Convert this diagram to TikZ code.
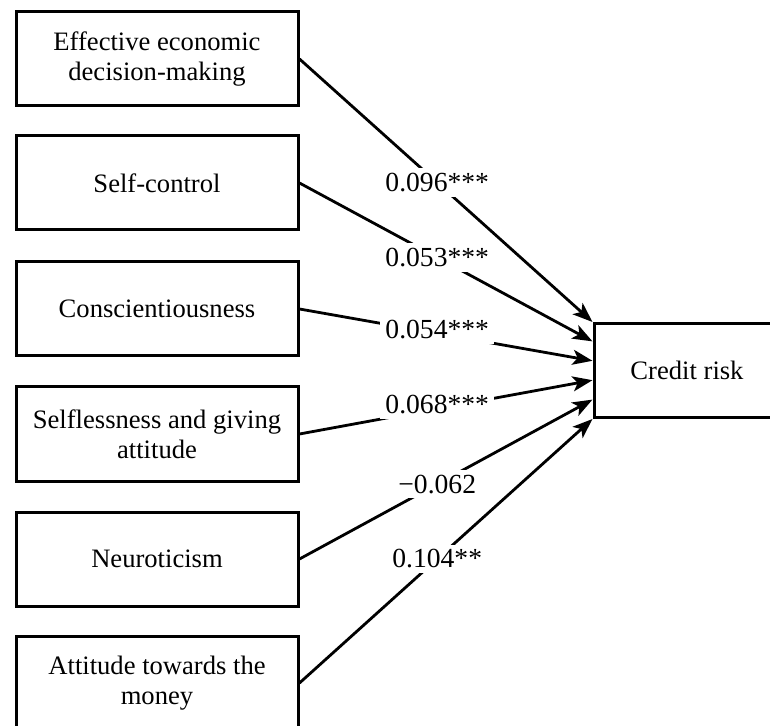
\documentclass[tikz,border=0pt]{standalone}
\usepackage{fontspec}
\setmainfont{Liberation Serif}
\usetikzlibrary{arrows.meta,calc}
\begin{document}
\begin{tikzpicture}[x=0.5pt,y=-0.5pt,
  box/.style={draw,line width=1.5pt,minimum width=141pt,minimum height=47pt,inner sep=0pt,align=center,font=\fontsize{13.3}{15}\selectfont},
  link/.style={line width=1.4pt,-{Stealth[length=10pt,width=7.5pt,inset=2.5pt]}},
  coef/.style={fill=white,inner sep=2.5pt,font=\fontsize{13.8}{15}\selectfont,pos=0.47}]
\useasboundingbox (0,0) rectangle (770,726);
\node[box] (a) at (157,59) {Effective economic\\decision-making};
\node[box] (b) at (157,183) {Self-control};
\node[box] (c) at (157,309) {Conscientiousness};
\node[box] (d) at (157,434) {Selflessness and giving\\attitude};
\node[box] (e) at (157,559) {Neuroticism};
\node[box] (f) at (157,683) {Attitude towards the\\money};
\node[box,minimum width=93pt] (cr) at (687,370.5) {Credit risk};
\coordinate (t1) at ($(cr.north west)!0!(cr.south west)$);
\coordinate (t2) at ($(cr.north west)!0.2!(cr.south west)$);
\coordinate (t3) at ($(cr.north west)!0.4!(cr.south west)$);
\coordinate (t4) at ($(cr.north west)!0.6!(cr.south west)$);
\coordinate (t5) at ($(cr.north west)!0.8!(cr.south west)$);
\coordinate (t6) at ($(cr.north west)!1!(cr.south west)$);
\draw[link] (a.east) -- node[coef]{0.096***} (t1);
\draw[link] (b.east) -- node[coef]{0.053***} (t2);
\draw[link] (c.east) -- node[coef,yshift=2pt]{0.054***} (t3);
\draw[link] (d.east) -- node[coef,yshift=2pt]{0.068***} (t4);
\draw[link] (e.east) -- node[coef]{−0.062} (t5);
\draw[link] (f.east) -- node[coef]{0.104**} (t6);
\end{tikzpicture}
\end{document}
